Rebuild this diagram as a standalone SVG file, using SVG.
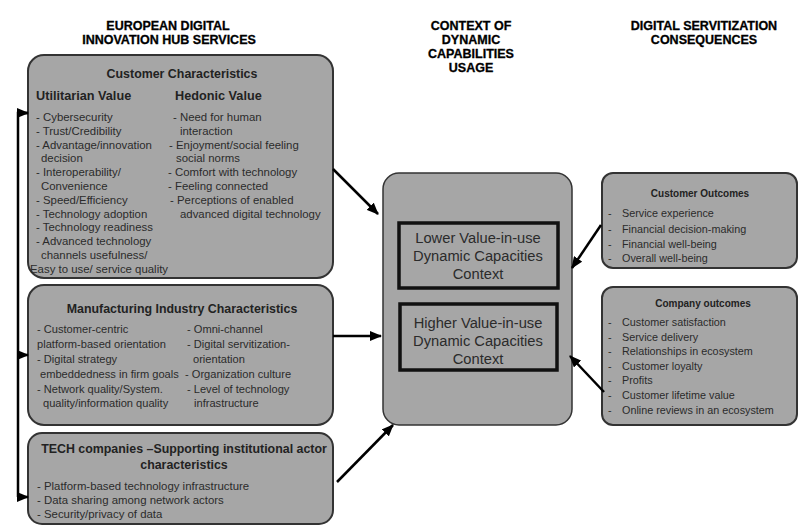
<svg xmlns="http://www.w3.org/2000/svg" width="798" height="526" viewBox="0 0 798 526">
<defs>
<marker id="ah" markerUnits="userSpaceOnUse" markerWidth="12" markerHeight="10" refX="11" refY="5" orient="auto">
<path d="M0,0 L12,5 L0,10 z" fill="#000"/>
</marker>
<style>
.hdr{font-family:"Liberation Sans",Arial,sans-serif;font-weight:bold;font-size:12.5px;fill:#000;stroke:#000;stroke-width:0.3;text-anchor:middle}
.box{fill:#a6a6a6;stroke:#333;stroke-width:2}
.inner{fill:#a6a6a6;stroke:#111;stroke-width:3.5}
.t{font-family:"Liberation Sans",Arial,sans-serif;font-size:11.4px;fill:#2b2b2b}
.m{font-size:11.1px}
.tb{font-family:"Liberation Sans",Arial,sans-serif;font-size:12.4px;font-weight:bold;fill:#222}
.ctr{text-anchor:middle}
.c{font-family:"Liberation Sans",Arial,sans-serif;font-size:14.7px;fill:#2b2b2b;text-anchor:middle}
.r{font-family:"Liberation Sans",Arial,sans-serif;font-size:10.8px;fill:#2b2b2b}
.rb{font-family:"Liberation Sans",Arial,sans-serif;font-size:10px;font-weight:bold;fill:#222;text-anchor:middle}
.con{stroke:#000;stroke-width:2.5;fill:none}
</style>
</defs>
<rect width="798" height="526" fill="#fff"/>

<g id="headers">
<text class="hdr" x="168" y="29.5">EUROPEAN DIGITAL</text>
<text class="hdr" x="169" y="43.5">INNOVATION HUB SERVICES</text>
<text class="hdr" x="471" y="29.5">CONTEXT OF</text>
<text class="hdr" x="471" y="44">DYNAMIC</text>
<text class="hdr" x="471" y="58">CAPABILITIES</text>
<text class="hdr" x="471" y="71.5">USAGE</text>
<text class="hdr" x="704" y="29.5">DIGITAL SERVITIZATION</text>
<text class="hdr" x="704" y="44">CONSEQUENCES</text>
</g>

<g id="customer-characteristics">
<rect class="box" x="28" y="55" width="305" height="223" rx="16"/>
<text class="tb ctr" x="182" y="78">Customer Characteristics</text>
<text class="tb" x="36" y="100" style="font-size:12.7px">Utilitarian Value</text>
<text class="tb" x="175" y="100" style="font-size:12.7px">Hedonic Value</text>
<text class="t" x="36" y="121">- Cybersecurity</text>
<text class="t" x="36" y="134.8">- Trust/Credibility</text>
<text class="t" x="36" y="148.6">- Advantage/innovation</text>
<text class="t" x="41" y="162.4">decision</text>
<text class="t" x="36" y="176.2">- Interoperability/</text>
<text class="t" x="41" y="190">Convenience</text>
<text class="t" x="36" y="203.8">- Speed/Efficiency</text>
<text class="t" x="36" y="217.6">- Technology adoption</text>
<text class="t" x="36" y="231.4">- Technology readiness</text>
<text class="t" x="36" y="245.2">- Advanced technology</text>
<text class="t" x="41" y="259">channels usefulness/</text>
<text class="t" x="30" y="272.8">Easy to use/ service quality</text>
<text class="t" x="173" y="121">- Need for human</text>
<text class="t" x="180" y="134.8">interaction</text>
<text class="t" x="169" y="148.6">- Enjoyment/social feeling</text>
<text class="t" x="176" y="162.4">social norms</text>
<text class="t" x="168" y="176.2">- Comfort with technology</text>
<text class="t" x="168" y="190">- Feeling connected</text>
<text class="t" x="170" y="203.8">- Perceptions of enabled</text>
<text class="t" x="180" y="217.6">advanced digital technology</text>
</g>

<g id="manufacturing-characteristics">
<rect class="box" x="28" y="285" width="305" height="140" rx="16"/>
<text class="tb ctr" x="182" y="313">Manufacturing Industry Characteristics</text>
<text class="t m" x="37" y="333">- Customer-centric</text>
<text class="t m" x="37" y="348">platform-based orientation</text>
<text class="t m" x="37" y="363">- Digital strategy</text>
<text class="t m" x="40" y="378">embeddedness in firm goals</text>
<text class="t m" x="37" y="393">- Network quality/System.</text>
<text class="t m" x="43" y="407">quality/information quality</text>
<text class="t m" x="187" y="333">- Omni-channel</text>
<text class="t m" x="187" y="348">- Digital servitization-</text>
<text class="t m" x="193" y="363">orientation</text>
<text class="t m" x="185" y="378">- Organization culture</text>
<text class="t m" x="187" y="393">- Level of technology</text>
<text class="t m" x="194" y="407">infrastructure</text>
</g>

<g id="tech-companies">
<rect class="box" x="28" y="433" width="305" height="91" rx="14"/>
<text class="tb ctr" x="184" y="453">TECH companies –Supporting institutional actor</text>
<text class="tb ctr" x="184" y="469">characteristics</text>
<text class="t" x="37" y="490">- Platform-based technology infrastructure</text>
<text class="t" x="37" y="504">- Data sharing among network actors</text>
<text class="t" x="37" y="518">- Security/privacy of data</text>
</g>

<g id="context">
<rect class="box" x="383" y="173" width="189" height="252" rx="16" style="stroke-width:1.5"/>
</g>

<g id="lower-value">
<rect class="inner" x="399" y="223" width="159" height="65"/>
<text class="c" x="478" y="243">Lower Value-in-use</text>
<text class="c" x="478" y="261">Dynamic Capacities</text>
<text class="c" x="478" y="279">Context</text>
</g>

<g id="higher-value">
<rect class="inner" x="400" y="304" width="157" height="66"/>
<text class="c" x="478" y="328">Higher Value-in-use</text>
<text class="c" x="478" y="346">Dynamic Capacities</text>
<text class="c" x="478" y="364">Context</text>
</g>

<g id="customer-outcomes">
<rect class="box" x="602" y="173" width="195" height="95" rx="11"/>
<text class="rb" x="700" y="197">Customer Outcomes</text>
<text class="r" x="608" y="217">-</text><text class="r" x="622" y="217">Service experience</text>
<text class="r" x="608" y="233">-</text><text class="r" x="622" y="233">Financial decision-making</text>
<text class="r" x="608" y="248">-</text><text class="r" x="622" y="248">Financial well-being</text>
<text class="r" x="608" y="262">-</text><text class="r" x="622" y="262">Overall well-being</text>
</g>

<g id="company-outcomes">
<rect class="box" x="602" y="287" width="195" height="138" rx="11"/>
<text class="rb" x="703" y="307">Company outcomes</text>
<text class="r" x="608" y="326">-</text><text class="r" x="622" y="326">Customer satisfaction</text>
<text class="r" x="608" y="341">-</text><text class="r" x="622" y="341">Service delivery</text>
<text class="r" x="608" y="355">-</text><text class="r" x="622" y="355">Relationships in ecosystem</text>
<text class="r" x="608" y="370">-</text><text class="r" x="622" y="370">Customer loyalty</text>
<text class="r" x="608" y="384">-</text><text class="r" x="622" y="384">Profits</text>
<text class="r" x="608" y="399">-</text><text class="r" x="622" y="399">Customer lifetime value</text>
<text class="r" x="608" y="414">-</text><text class="r" x="622" y="414">Online reviews in an ecosystem</text>
</g>

<g id="connectors">
<path class="con" d="M28,113 H18 V497"/>
<path class="con" d="M18,113 H28" marker-end="url(#ah)"/>
<path class="con" d="M18,355 H28" marker-end="url(#ah)"/>
<path class="con" d="M18,497 H28" marker-end="url(#ah)"/>
<path class="con" d="M333,169 L378,214" marker-end="url(#ah)"/>
<path class="con" d="M333,336 L381,336" marker-end="url(#ah)"/>
<path class="con" d="M337,482 L393,425" marker-end="url(#ah)"/>
<path class="con" d="M601,225 L572,268" marker-end="url(#ah)"/>
<path class="con" d="M604,392 L570,356" marker-end="url(#ah)"/>
</g>
</svg>
